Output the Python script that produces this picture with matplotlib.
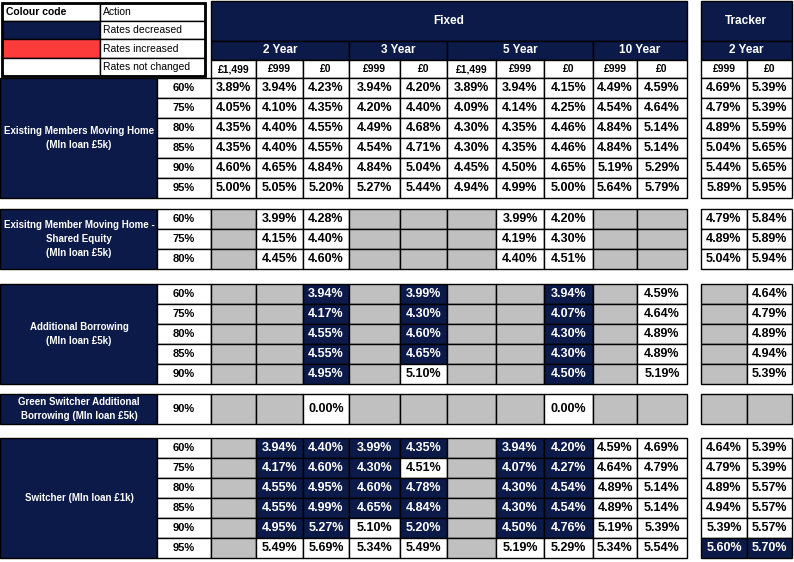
import matplotlib
matplotlib.use("Agg")
import matplotlib.pyplot as plt
from matplotlib.patches import Rectangle

NAVY = "#0b1a48"
RED = "#fd3b3b"
GREY = "#c0c0c0"
FONT = "Liberation Sans"

# ---- data ----
terms = ["2 Year", "3 Year", "5 Year", "10 Year"]
fees = ["£1,499", "£999", "£0", "£999", "£0", "£1,499", "£999", "£0", "£999", "£0", "£999", "£0"]

labels_1 = "Existing Members Moving Home\n(Mln loan £5k)"
ltv_1 = ["60%", "75%", "80%", "85%", "90%", "95%"]
rates_1 = [
    [3.89, 3.94, 4.23, 3.94, 4.20, 3.89, 3.94, 4.15, 4.49, 4.59, 4.69, 5.39],
    [4.05, 4.10, 4.35, 4.20, 4.40, 4.09, 4.14, 4.25, 4.54, 4.64, 4.79, 5.39],
    [4.35, 4.40, 4.55, 4.49, 4.68, 4.30, 4.35, 4.46, 4.84, 5.14, 4.89, 5.59],
    [4.35, 4.40, 4.55, 4.54, 4.71, 4.30, 4.35, 4.46, 4.84, 5.14, 5.04, 5.65],
    [4.60, 4.65, 4.84, 4.84, 5.04, 4.45, 4.50, 4.65, 5.19, 5.29, 5.44, 5.65],
    [5.00, 5.05, 5.20, 5.27, 5.44, 4.94, 4.99, 5.00, 5.64, 5.79, 5.89, 5.95],
]
down_1 = []

labels_2 = "Exisitng Member Moving Home -\nShared Equity\n(Mln loan £5k)"
ltv_2 = ["60%", "75%", "80%"]
rates_2 = [
    [None, 3.99, 4.28, None, None, None, 3.99, 4.20, None, None, 4.79, 5.84],
    [None, 4.15, 4.40, None, None, None, 4.19, 4.30, None, None, 4.89, 5.89],
    [None, 4.45, 4.60, None, None, None, 4.40, 4.51, None, None, 5.04, 5.94],
]
down_2 = []

labels_3 = "Additional Borrowing\n(Mln loan £5k)"
ltv_3 = ["60%", "75%", "80%", "85%", "90%"]
rates_3 = [
    [None, None, 3.94, None, 3.99, None, None, 3.94, None, 4.59, None, 4.64],
    [None, None, 4.17, None, 4.30, None, None, 4.07, None, 4.64, None, 4.79],
    [None, None, 4.55, None, 4.60, None, None, 4.30, None, 4.89, None, 4.89],
    [None, None, 4.55, None, 4.65, None, None, 4.30, None, 4.89, None, 4.94],
    [None, None, 4.95, None, 5.10, None, None, 4.50, None, 5.19, None, 5.39],
]
down_3 = [(r, c) for r in range(5) for c in (2, 4, 7) if not (r == 4 and c == 4)]

labels_4 = "Green Switcher Additional\nBorrowing (Mln loan £5k)"
ltv_4 = ["90%"]
rates_4 = [[None, None, 0.00, None, None, None, None, 0.00, None, None, None, None]]
down_4 = []

labels_5 = "Switcher (Mln loan £1k)"
ltv_5 = ["60%", "75%", "80%", "85%", "90%", "95%"]
rates_5 = [
    [None, 3.94, 4.40, 3.99, 4.35, None, 3.94, 4.20, 4.59, 4.69, 4.64, 5.39],
    [None, 4.17, 4.60, 4.30, 4.51, None, 4.07, 4.27, 4.64, 4.79, 4.79, 5.39],
    [None, 4.55, 4.95, 4.60, 4.78, None, 4.30, 4.54, 4.89, 5.14, 4.89, 5.57],
    [None, 4.55, 4.99, 4.65, 4.84, None, 4.30, 4.54, 4.89, 5.14, 4.94, 5.57],
    [None, 4.95, 5.27, 5.10, 5.20, None, 4.50, 4.76, 5.19, 5.39, 5.39, 5.57],
    [None, 5.49, 5.69, 5.34, 5.49, None, 5.19, 5.29, 5.34, 5.54, 5.60, 5.70],
]
down_5 = [(r, c) for r in range(5) for c in (1, 2, 3, 4, 6, 7)
          if (r, c) not in [(1, 4), (4, 3)]] + [(5, 10), (5, 11)]

# ---- layout ----
col_x = [211, 256, 303, 349, 400, 447, 496, 544, 593, 637, 687]
trk_x = [701, 747, 792]
cols = list(zip(col_x[:-1], col_x[1:])) + list(zip(trk_x[:-1], trk_x[1:]))
term_span = [(211, 349), (349, 447), (447, 593), (593, 687)]

fig = plt.figure(figsize=(7.94, 5.62), dpi=100)
ax = fig.add_axes([0, 0, 1, 1])
ax.set_xlim(0, 794)
ax.set_ylim(562, 0)
ax.axis("off")


def box(x0, y0, x1, y1, fc, lw=1.0, ec="black"):
    ax.add_patch(Rectangle((x0, y0), x1 - x0, y1 - y0, fc=fc, ec=ec, lw=lw))


def txt(x, y, s, color="black", size=8.5, ha="center"):
    ax.text(x, y, s, color=color, fontsize=size, fontweight="bold", family=FONT,
            ha=ha, va="center", linespacing=1.5)


# legend
leg = [("Colour code", "white", "Action"), ("", NAVY, "Rates decreased"),
       ("", RED, "Rates increased"), ("", "white", "Rates not changed")]
ly = [3, 21, 39, 58, 76]
for i, (a, c, b) in enumerate(leg):
    box(2, ly[i], 100, ly[i + 1], c)
    box(100, ly[i], 205, ly[i + 1], "white")
    txt(6, (ly[i] + ly[i + 1]) / 2, a, size=7.5, ha="left")
    ax.text(103, (ly[i] + ly[i + 1]) / 2, b, fontsize=7.5, family=FONT,
            ha="left", va="center")
box(2, 3, 205, 76, "none", lw=2)

# headers
box(211, 1, 687, 41, NAVY)
txt(449, 21, "Fixed", "white")
box(701, 1, 792, 41, NAVY)
txt(746, 21, "Tracker", "white")
for (a, b), t in zip(term_span, terms):
    box(a, 41, b, 60, NAVY)
    txt((a + b) / 2, 50, t, "white")
box(701, 41, 792, 60, NAVY)
txt(746, 50, "2 Year", "white")
for (a, b), f in zip(cols, fees):
    box(a, 60, b, 78, "white")
    txt((a + b) / 2, 69, f, size=7.5)

blocks = [
    (labels_1, ltv_1, rates_1, down_1, 78, 20),
    (labels_2, ltv_2, rates_2, down_2, 209, 20),
    (labels_3, ltv_3, rates_3, down_3, 284, 20),
    (labels_4, ltv_4, rates_4, down_4, 394, 30),
    (labels_5, ltv_5, rates_5, down_5, 438, 20),
]
for label, ltv, rates, down, top, h in blocks:
    bottom = top + h * len(ltv)
    box(0, top, 157, bottom, NAVY)
    txt(79, (top + bottom) / 2, label, "white", size=7)
    for r, (l, row) in enumerate(zip(ltv, rates)):
        y0 = top + r * h
        box(157, y0, 211, y0 + h, "white")
        txt(184, y0 + h / 2, l, size=8)
        for c, ((a, b), v) in enumerate(zip(cols, row)):
            if v is None:
                box(a, y0, b, y0 + h, GREY)
                continue
            dn = (r, c) in down
            box(a, y0, b, y0 + h, NAVY if dn else "white")
            txt((a + b) / 2, y0 + h / 2, f"{v:.2f}%", "white" if dn else "black", size=9)

fig.savefig("out.png", dpi=100)
